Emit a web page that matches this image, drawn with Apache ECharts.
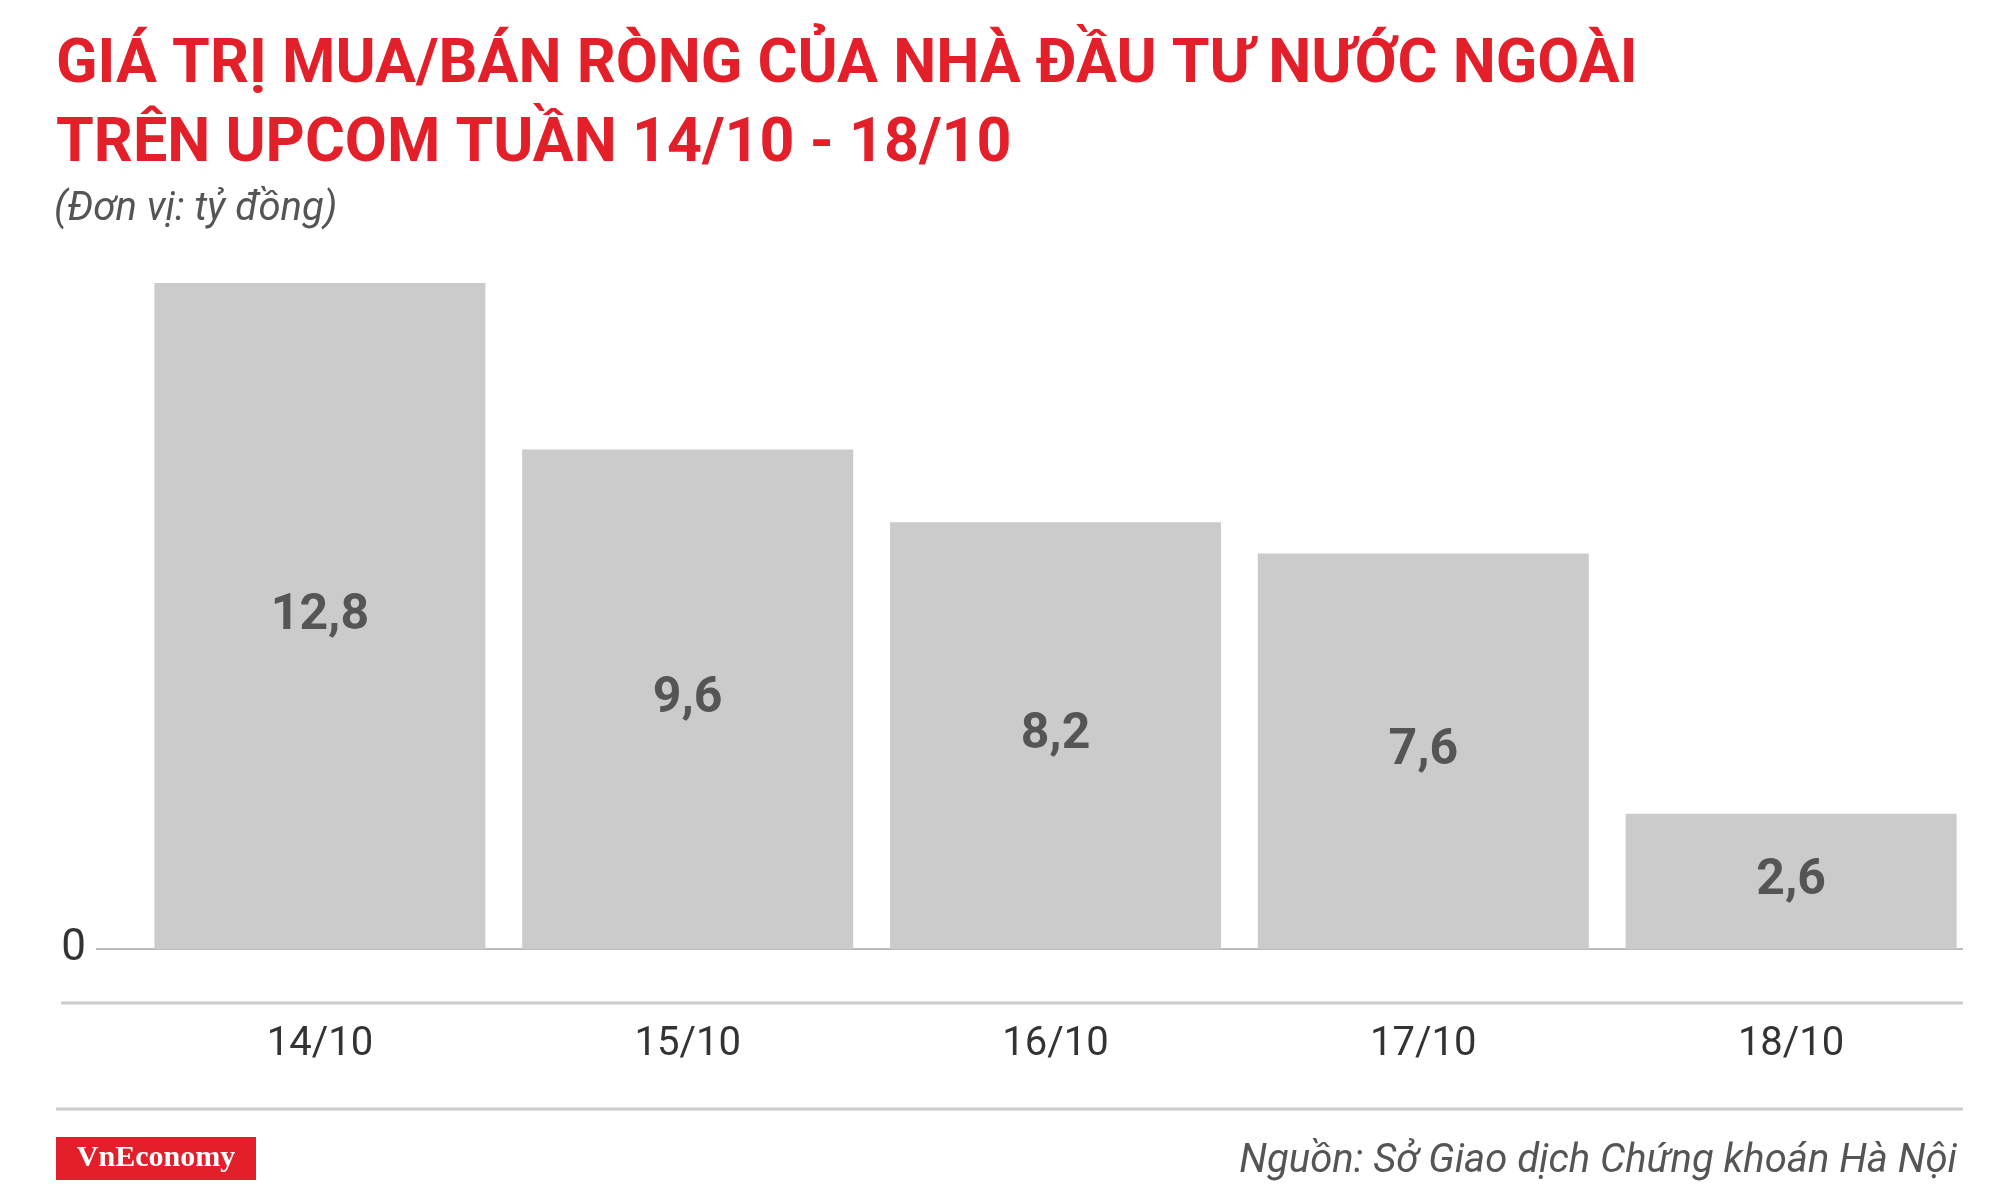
<!DOCTYPE html>
<html><head><meta charset="utf-8">
<script src="https://cdn.jsdelivr.net/npm/echarts@6/dist/echarts.min.js"></script>
<style>html,body{margin:0;padding:0;background:#fff}#c{width:2000px;height:1194px}</style>
</head><body><div id="c"></div>
<script>
const categories = ["14/10","15/10","16/10","17/10","18/10"];
const values = [12.8, 9.6, 8.2, 7.6, 2.6];
const titleLines = ["GIÁ TRỊ MUA/BÁN RÒNG CỦA NHÀ ĐẦU TƯ NƯỚC NGOÀI","TRÊN UPCOM TUẦN 14/10 - 18/10"];
const unitText = "(Đơn vị: tỷ đồng)";
const sourceText = "Nguồn: Sở Giao dịch Chứng khoán Hà Nội";
const chart = echarts.init(document.getElementById('c'));
const red = '#e3202a';
chart.setOption({
  animation:false,
  grid:{left:136,right:25,top:283,bottom:245},
  xAxis:{type:'category',data:categories,axisLine:{show:false},axisTick:{show:false},
    axisLabel:{margin:76,fontSize:40,color:'#333',fontFamily:'Roboto'}},
  yAxis:{type:'value',min:0,max:12.8,splitLine:{show:false},axisLine:{show:false},axisTick:{show:false},
    axisLabel:{showMaxLabel:false,formatter:v=>v===0?'0':'',fontSize:44,color:'#333',margin:50,fontFamily:'Roboto'}},
  series:[{type:'bar',data:values,barCategoryGap:'10%',itemStyle:{color:'#cccbcc'},
    label:{show:true,position:'inside',formatter:p=>String(p.value).replace('.',','),
      fontSize:50,fontWeight:'bold',color:'#555',fontFamily:'Roboto'}}],
  graphic:[
    {type:'text',left:56,top:36,style:{text:titleLines[0],fontSize:61,fontWeight:'bold',fill:red,fontFamily:'Roboto'}},
    {type:'text',left:56,top:115,style:{text:titleLines[1],fontSize:61,fontWeight:'bold',fill:red,fontFamily:'Roboto'}},
    {type:'text',left:54,top:190,style:{text:unitText,fontSize:40,fontStyle:'italic',fill:'#555',fontFamily:'Roboto'}},
    {type:'line',shape:{x1:96,y1:949,x2:1963,y2:949},style:{stroke:'#bbb',lineWidth:2}},
    {type:'line',shape:{x1:61,y1:1003,x2:1963,y2:1003},style:{stroke:'#ccc',lineWidth:3}},
    {type:'line',shape:{x1:56,y1:1109,x2:1963,y2:1109},style:{stroke:'#ccc',lineWidth:3}},
    {type:'rect',shape:{x:56,y:1137,width:200,height:43},style:{fill:red}},
    {type:'text',x:156,y:1158,style:{text:'VnEconomy',fontSize:30,fontWeight:'bold',fill:'#fff',fontFamily:'Liberation Serif',align:'center',verticalAlign:'middle'}},
    {type:'text',x:1957,y:1162,style:{text:sourceText,fontSize:40,fontStyle:'italic',fill:'#555',fontFamily:'Roboto',align:'right',verticalAlign:'middle'}}
  ]
});
</script></body></html>
